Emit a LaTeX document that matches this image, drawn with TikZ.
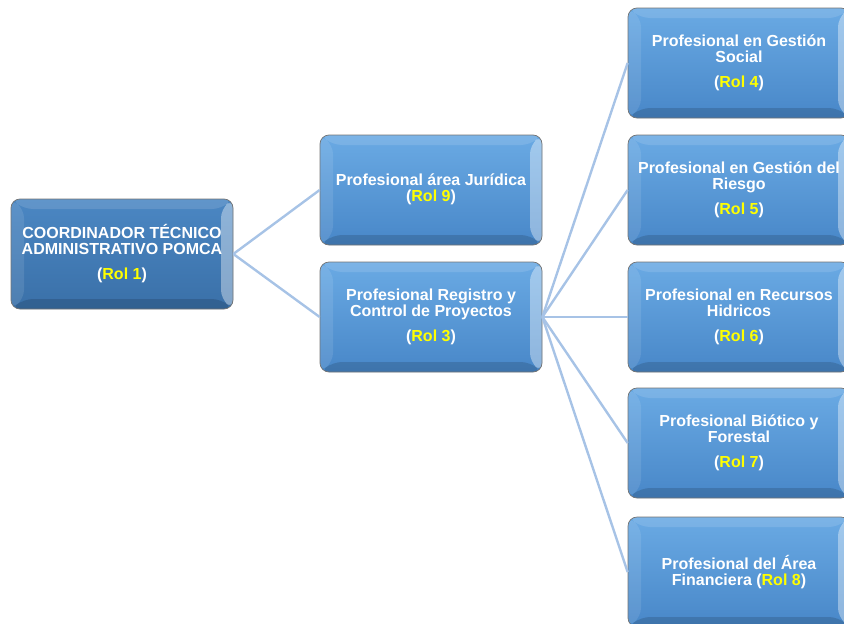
\documentclass[tikz,border=0pt]{standalone}
\usepackage{fontspec}
\setmainfont{Liberation Sans}
\definecolor{boxtop}{HTML}{6AAAE4}
\definecolor{boxbot}{HTML}{4887C8}
\definecolor{roottop}{HTML}{4B87C3}
\definecolor{rootbot}{HTML}{3A70A8}
\definecolor{rolyel}{HTML}{FFFF00}
\definecolor{connc}{HTML}{A7C3E6}
\newcommand\rl[1]{(\textcolor{rolyel}{Rol #1})}
\tikzset{
  bevel/.style={path picture={
    \path (path picture bounding box.north west) coordinate (bvnw)
          (path picture bounding box.north east) coordinate (bvne)
          (path picture bounding box.south east) coordinate (bvse)
          (path picture bounding box.south west) coordinate (bvsw);
    \fill[white,opacity=0.12] (bvnw) -- (bvne) -- ([xshift=-12pt,yshift=-10pt]bvne) -- ([xshift=13pt,yshift=-10pt]bvnw) -- cycle;
    \fill[white,opacity=0.10] (bvnw) -- ([xshift=13pt,yshift=-10pt]bvnw) -- ([xshift=13pt,yshift=10pt]bvsw) -- (bvsw) -- cycle;
    \fill[white,opacity=0.38] (bvne) -- (bvse) -- ([xshift=-12pt,yshift=10pt]bvse) -- ([xshift=-12pt,yshift=-10pt]bvne) -- cycle;
    \fill[black,opacity=0.14] (bvsw) -- ([xshift=13pt,yshift=10pt]bvsw) -- ([xshift=-12pt,yshift=10pt]bvse) -- (bvse) -- cycle;
  }},
  rolebox/.style={draw=black!55, line width=0.7pt, rounded corners=9pt,
    minimum width=222pt, minimum height=110pt, inner sep=0pt,
    top color=boxtop, bottom color=boxbot, text=white, align=center,
    font=\bfseries\fontsize{16}{16}\selectfont, bevel},
  rootbox/.style={rolebox, top color=roottop, bottom color=rootbot},
  conn/.style={draw=connc, line width=2.4pt},
}
\begin{document}
\begin{tikzpicture}[x=1pt,y=-1pt]
\useasboundingbox (0,0) rectangle (844,624);
\clip (0,0) rectangle (844,624);
\node[rootbox] (root) at (122,254) {COORDINADOR TÉCNICO\\ADMINISTRATIVO POMCA\\[9pt]\rl{1}};
\node[rolebox] (r9) at (431,190) {\raisebox{-2pt}{\begin{tabular}{@{}c@{}}Profesional área Jurídica\\\rl{9}\end{tabular}}};
\node[rolebox] (r3) at (431,317) {Profesional Registro y\\Control de Proyectos\\[9pt]\rl{3}};
\node[rolebox] (r4) at (739,63) {Profesional en Gestión\\Social\\[9pt]\rl{4}};
\node[rolebox] (r5) at (739,190) {Profesional en Gestión del\\Riesgo\\[9pt]\rl{5}};
\node[rolebox] (r6) at (739,317) {Profesional en Recursos\\Hidricos\\[9pt]\rl{6}};
\node[rolebox] (r7) at (739,443) {Profesional Biótico y\\Forestal\\[9pt]\rl{7}};
\node[rolebox] (r8) at (739,572) {Profesional del Área\\Financiera \rl{8}};
\draw[conn] (root.east) -- (r9.west);
\draw[conn] (root.east) -- (r3.west);
\foreach \t in {r4,r5,r6,r7,r8}{\draw[conn] (r3.east) -- (\t.west);}
\end{tikzpicture}
\end{document}
